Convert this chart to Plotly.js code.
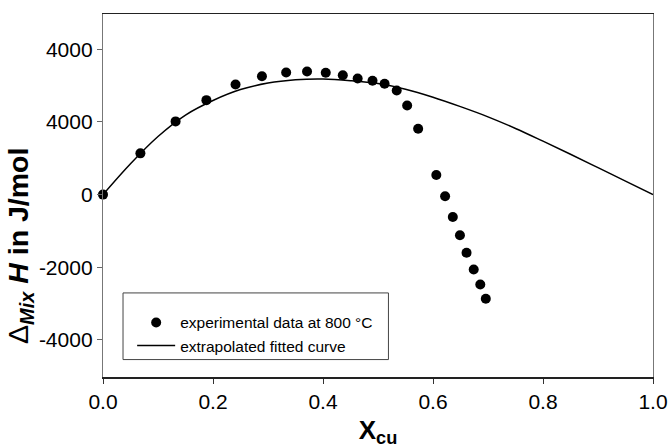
<!DOCTYPE html>
<html>
<head>
<meta charset="utf-8">
<script src="https://cdn.plot.ly/plotly-3.0.1.min.js"></script>
<style>html,body{margin:0;padding:0;background:#fff;}#chart{width:668px;height:448px;}</style>
</head>
<body>
<div id="chart"></div>
<script>
// Experimental data at 800 °C
var expX = [0, 0.068, 0.132, 0.188, 0.241, 0.289, 0.333, 0.371, 0.405, 0.436, 0.463, 0.490, 0.512, 0.534, 0.553, 0.573, 0.606, 0.622, 0.636, 0.649, 0.661, 0.674, 0.686, 0.696];
var expY = [0, 1135, 2014, 2599, 3030, 3258, 3360, 3387, 3352, 3286, 3195, 3132, 3049, 2865, 2453, 1813, 538, -47, -615, -1118, -1602, -2060, -2473, -2865];
// Extrapolated fitted curve
var fitX = [0, 0.05, 0.10, 0.15, 0.20, 0.25, 0.30, 0.35, 0.40, 0.45, 0.50, 0.55, 0.60, 0.65, 0.70, 0.75, 0.80, 0.85, 0.90, 0.95, 1.0];
var fitY = [0, 850, 1600, 2190, 2590, 2890, 3070, 3160, 3180, 3135, 3055, 2900, 2680, 2420, 2140, 1820, 1470, 1110, 740, 370, 0];
// Axis ticks (labels as printed in the original figure)
var xTickVals = [0, 0.2, 0.4, 0.6, 0.8, 1.0];
var xTickText = ['0.0', '0.2', '0.4', '0.6', '0.8', '1.0'];
var yTickVals = [-4000, -2000, 0, 2000, 4000];
var yTickText = ['-4000', '-2000', '0', '4000', '4000'];
var seriesNames = ['experimental data at 800 °C', 'extrapolated fitted curve'];

var FONT = 'Liberation Sans, Arial, Helvetica, sans-serif';

var traces = [
  {
    x: expX, y: expY, type: 'scatter', mode: 'markers', name: seriesNames[0],
    marker: {color: '#000', size: 10, symbol: 'circle'}, cliponaxis: false
  },
  {
    x: fitX, y: fitY, type: 'scatter', mode: 'lines', name: seriesNames[1],
    line: {color: '#000', width: 1.5, shape: 'spline', smoothing: 1}
  }
];

var layout = {
  width: 668, height: 448,
  margin: {l: 103, r: 15, t: 14, b: 71, pad: 0},
  paper_bgcolor: '#fff', plot_bgcolor: '#fff',
  font: {family: FONT, color: '#000', size: 21},
  showlegend: true,
  legend: {
    x: 0.053, y: 0.196, xanchor: 'left', yanchor: 'top',
    bgcolor: 'rgba(0,0,0,0)', borderwidth: 0,
    font: {family: FONT, size: 15.5, color: '#000'},
    itemwidth: 38, tracegroupgap: 0
  },
  xaxis: {
    range: [0, 1], tickvals: xTickVals, ticktext: xTickText,
    ticks: 'outside', ticklen: 5, tickwidth: 1, tickcolor: '#333',
    ticklabeloverflow: 'allow',
    showline: true, linecolor: '#222', linewidth: 1.5, mirror: true,
    showgrid: false, zeroline: false,
    tickfont: {family: FONT, size: 21, color: '#000'},
    title: {text: '<b>X<sub>cu</sub></b>', font: {family: FONT, size: 26, color: '#000'}, standoff: 22}
  },
  yaxis: {
    range: [-5020, 4970], tickvals: yTickVals, ticktext: yTickText,
    ticks: 'outside', ticklen: 5, tickwidth: 1, tickcolor: '#666',
    showline: true, linecolor: '#777', linewidth: 1.2, mirror: true,
    showgrid: false, zeroline: false,
    tickfont: {family: FONT, size: 21, color: '#000'}
  },
  shapes: [{
    type: 'rect', xref: 'paper', yref: 'paper',
    x0: 0.0364, x1: 0.519, y0: 0.048, y1: 0.2316,
    line: {color: '#444', width: 1}, fillcolor: 'rgba(0,0,0,0)'
  }],
  annotations: [{
    xref: 'paper', yref: 'paper', x: -0.152, y: 0.362,
    xanchor: 'center', yanchor: 'middle', textangle: -90, showarrow: false,
    text: 'Δ<sub><b><i>Mix</i></b></sub> <b><i>H</i></b><b> in J/mol</b>',
    font: {family: FONT, size: 28.5, color: '#000'}
  }]
};

Plotly.newPlot('chart', traces, layout, {displayModeBar: false, staticPlot: true});
</script>
</body>
</html>
